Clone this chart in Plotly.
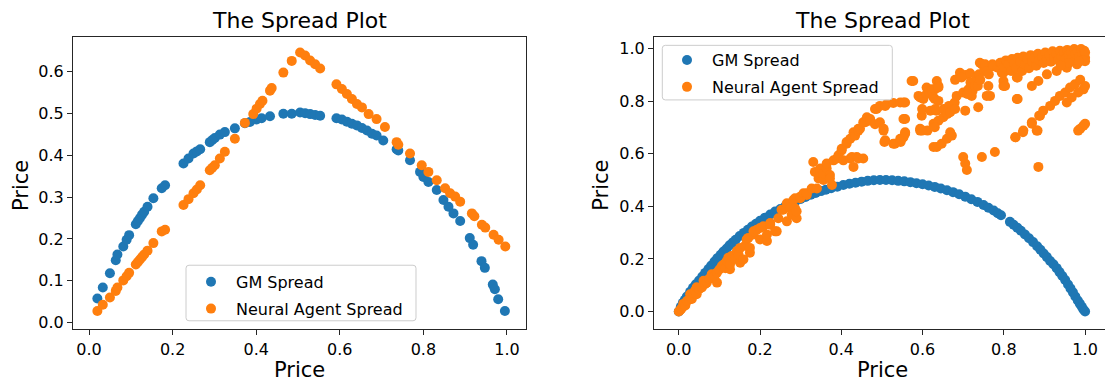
import plotly.graph_objects as go

W, H = 1105, 386

# ---------------- data ----------------
series_names = ["GM Spread", "Neural Agent Spread"]
title_text = "The Spread Plot"
axis_label = "Price"

left_gm_x = [0.020, 0.033, 0.050, 0.064, 0.068, 0.082, 0.090, 0.096, 0.112, 0.117,
             0.122, 0.127, 0.132, 0.140, 0.154, 0.174, 0.182, 0.226, 0.238, 0.250,
             0.258, 0.266, 0.289, 0.295, 0.301, 0.313, 0.325, 0.349, 0.373, 0.385,
             0.401, 0.413, 0.433, 0.465, 0.485, 0.505, 0.517, 0.529, 0.541, 0.553,
             0.592, 0.605, 0.617, 0.629, 0.641, 0.653, 0.665, 0.677, 0.688, 0.704,
             0.736, 0.740, 0.768, 0.792, 0.800, 0.812, 0.832, 0.848, 0.860, 0.872,
             0.888, 0.911, 0.919, 0.939, 0.947, 0.966, 0.971, 0.979, 0.995]
left_gm_y = [0.058, 0.084, 0.118, 0.149, 0.163, 0.182, 0.198, 0.209, 0.235, 0.243,
             0.250, 0.258, 0.265, 0.277, 0.297, 0.321, 0.328, 0.380, 0.392, 0.404,
             0.409, 0.414, 0.431, 0.436, 0.441, 0.449, 0.455, 0.464, 0.476, 0.479,
             0.485, 0.488, 0.493, 0.499, 0.499, 0.502, 0.500, 0.498, 0.496, 0.494,
             0.488, 0.485, 0.480, 0.475, 0.471, 0.465, 0.459, 0.451, 0.447, 0.435,
             0.414, 0.411, 0.388, 0.360, 0.348, 0.336, 0.317, 0.293, 0.277, 0.261,
             0.243, 0.202, 0.186, 0.147, 0.131, 0.091, 0.080, 0.056, 0.028]

left_na_x = [0.020, 0.033, 0.050, 0.064, 0.068, 0.082, 0.090, 0.096, 0.112, 0.117,
             0.122, 0.127, 0.132, 0.140, 0.154, 0.174, 0.182, 0.226, 0.238, 0.250,
             0.258, 0.266, 0.289, 0.295, 0.301, 0.313, 0.325, 0.349, 0.373, 0.393,
             0.401, 0.409, 0.415, 0.433, 0.437, 0.465, 0.485, 0.505, 0.517, 0.529,
             0.541, 0.553, 0.592, 0.605, 0.617, 0.629, 0.641, 0.653, 0.669, 0.688,
             0.708, 0.736, 0.740, 0.768, 0.796, 0.812, 0.832, 0.852, 0.864, 0.876,
             0.888, 0.916, 0.922, 0.940, 0.948, 0.968, 0.980, 0.996]
left_na_y = [0.028, 0.043, 0.060, 0.076, 0.084, 0.101, 0.111, 0.119, 0.139, 0.145,
             0.151, 0.157, 0.163, 0.172, 0.190, 0.218, 0.222, 0.281, 0.295, 0.309,
             0.318, 0.328, 0.364, 0.370, 0.376, 0.392, 0.408, 0.439, 0.477, 0.498,
             0.511, 0.522, 0.530, 0.554, 0.560, 0.597, 0.625, 0.645, 0.638, 0.626,
             0.617, 0.607, 0.569, 0.558, 0.546, 0.534, 0.522, 0.514, 0.498, 0.486,
             0.467, 0.431, 0.425, 0.404, 0.376, 0.360, 0.340, 0.321, 0.309, 0.301,
             0.289, 0.261, 0.254, 0.234, 0.227, 0.210, 0.198, 0.182]

right_gm_x = [0.000, 0.005, 0.010, 0.015, 0.020, 0.028, 0.035, 0.042, 0.050, 0.058,
              0.065, 0.073, 0.080, 0.088, 0.095, 0.103, 0.110, 0.118, 0.125, 0.133,
              0.140, 0.150, 0.160, 0.170, 0.180, 0.190, 0.200, 0.212, 0.225, 0.237,
              0.250, 0.262, 0.275, 0.287, 0.300, 0.312, 0.325, 0.337, 0.350, 0.362,
              0.375, 0.390, 0.405, 0.420, 0.435, 0.450, 0.465, 0.480, 0.495, 0.510,
              0.525, 0.540, 0.555, 0.570, 0.585, 0.600, 0.615, 0.630, 0.645, 0.660,
              0.675, 0.690, 0.705, 0.720, 0.735, 0.750, 0.762, 0.775, 0.785, 0.793,
              0.815, 0.824, 0.833, 0.842, 0.852, 0.862, 0.872, 0.882, 0.890, 0.898,
              0.906, 0.914, 0.922, 0.930, 0.937, 0.944, 0.951, 0.958, 0.964, 0.970,
              0.976, 0.982, 0.987, 0.992, 0.996, 1.000]
right_gm_y = [0.000, 0.018, 0.033, 0.045, 0.057, 0.075, 0.090, 0.104, 0.118, 0.133,
              0.147, 0.162, 0.175, 0.190, 0.203, 0.216, 0.228, 0.240, 0.252, 0.263,
              0.273, 0.287, 0.299, 0.311, 0.323, 0.334, 0.345, 0.357, 0.369, 0.380,
              0.390, 0.400, 0.410, 0.419, 0.428, 0.436, 0.444, 0.451, 0.458, 0.463,
              0.469, 0.475, 0.481, 0.486, 0.490, 0.494, 0.497, 0.499, 0.500, 0.500,
              0.499, 0.497, 0.495, 0.492, 0.488, 0.484, 0.479, 0.474, 0.468, 0.461,
              0.454, 0.446, 0.437, 0.427, 0.417, 0.405, 0.395, 0.384, 0.374, 0.366,
              0.341, 0.330, 0.319, 0.307, 0.293, 0.279, 0.264, 0.248, 0.235, 0.221,
              0.207, 0.192, 0.180, 0.165, 0.150, 0.135, 0.120, 0.103, 0.088, 0.073,
              0.057, 0.042, 0.030, 0.018, 0.008, 0.000]

# Neural agent spread (right panel), (price, spread) pairs grouped by region
right_na_low = [
    (0.000, 0.000), (0.003, 0.005), (0.006, 0.010), (0.010, 0.018), (0.011, 0.029),
    (0.016, 0.023), (0.020, 0.040), (0.025, 0.045), (0.028, 0.066), (0.032, 0.048),
    (0.036, 0.070), (0.040, 0.080), (0.044, 0.066), (0.044, 0.092), (0.050, 0.085),
    (0.057, 0.092), (0.061, 0.117), (0.065, 0.105), (0.069, 0.110), (0.075, 0.125),
    (0.081, 0.129), (0.081, 0.142), (0.088, 0.135), (0.094, 0.110), (0.094, 0.148),
    (0.100, 0.160), (0.106, 0.173), (0.110, 0.179), (0.115, 0.165), (0.118, 0.192),
    (0.122, 0.205), (0.126, 0.161), (0.126, 0.179), (0.130, 0.211), (0.138, 0.200),
    (0.143, 0.230), (0.147, 0.217), (0.151, 0.186), (0.151, 0.242), (0.159, 0.198),
    (0.163, 0.250), (0.167, 0.274), (0.171, 0.280), (0.175, 0.224), (0.175, 0.242),
    (0.184, 0.293), (0.184, 0.305), (0.192, 0.311), (0.200, 0.274), (0.200, 0.318),
    (0.208, 0.324), (0.217, 0.268), (0.217, 0.293), (0.225, 0.330), (0.225, 0.337),
    (0.237, 0.305), (0.241, 0.305), (0.245, 0.355), (0.253, 0.387), (0.257, 0.387),
    (0.266, 0.343), (0.266, 0.412), (0.274, 0.393), (0.278, 0.368), (0.282, 0.424),
    (0.286, 0.393), (0.286, 0.431), (0.290, 0.355), (0.290, 0.381), (0.299, 0.431),
    (0.299, 0.437), (0.307, 0.450), (0.315, 0.443), (0.315, 0.450), (0.327, 0.468),
]
right_na_mid = [
    (0.331, 0.569), (0.335, 0.531), (0.340, 0.468), (0.344, 0.506), (0.348, 0.531),
    (0.348, 0.544), (0.356, 0.500), (0.356, 0.525), (0.364, 0.544), (0.364, 0.563),
    (0.372, 0.519), (0.372, 0.506), (0.377, 0.481), (0.381, 0.575), (0.389, 0.582),
    (0.393, 0.594), (0.401, 0.613), (0.401, 0.619), (0.405, 0.575), (0.413, 0.638),
    (0.413, 0.645), (0.422, 0.582), (0.422, 0.657), (0.426, 0.588), (0.430, 0.550),
    (0.430, 0.682), (0.434, 0.669), (0.438, 0.588), (0.442, 0.582), (0.442, 0.688),
    (0.442, 0.695), (0.446, 0.695), (0.454, 0.720), (0.454, 0.582), (0.459, 0.720),
    (0.463, 0.739), (0.471, 0.732), (0.471, 0.726),
    (0.483, 0.770), (0.487, 0.770), (0.495, 0.782), (0.508, 0.782), (0.512, 0.789),
    (0.528, 0.793), (0.545, 0.795), (0.557, 0.795), (0.553, 0.795),
    (0.483, 0.712), (0.495, 0.720), (0.504, 0.688), (0.504, 0.695), (0.508, 0.651),
    (0.506, 0.645), (0.528, 0.638), (0.532, 0.638), (0.546, 0.645), (0.545, 0.657),
    (0.549, 0.657), (0.553, 0.663), (0.557, 0.676), (0.557, 0.682), (0.553, 0.732),
    (0.557, 0.732),
]
right_na_upper = [
    (0.573, 0.877), (0.577, 0.877), (0.590, 0.820), (0.594, 0.814), (0.599, 0.814),
    (0.602, 0.808), (0.598, 0.745), (0.599, 0.770), (0.594, 0.688), (0.594, 0.695),
    (0.610, 0.827), (0.610, 0.852), (0.617, 0.833), (0.623, 0.845), (0.623, 0.839),
    (0.630, 0.845), (0.627, 0.814), (0.635, 0.877), (0.639, 0.858), (0.639, 0.852),
    (0.630, 0.808), (0.639, 0.801), (0.619, 0.764), (0.631, 0.770), (0.634, 0.764),
    (0.652, 0.770), (0.665, 0.782), (0.679, 0.795), (0.627, 0.714), (0.639, 0.726),
    (0.651, 0.739), (0.661, 0.751), (0.668, 0.758), (0.680, 0.770), (0.612, 0.688),
    (0.599, 0.688), (0.630, 0.701), (0.635, 0.626), (0.627, 0.626), (0.647, 0.638),
    (0.660, 0.657), (0.672, 0.669), (0.668, 0.682), (0.680, 0.881), (0.692, 0.893),
    (0.692, 0.908), (0.705, 0.900), (0.717, 0.906), (0.696, 0.890), (0.684, 0.820),
    (0.700, 0.833), (0.713, 0.845), (0.721, 0.820), (0.723, 0.839), (0.705, 0.764),
    (0.700, 0.588), (0.705, 0.563), (0.709, 0.538), (0.718, 0.871), (0.710, 0.827),
    (0.729, 0.858), (0.733, 0.893), (0.737, 0.777), (0.736, 0.858), (0.739, 0.902),
    (0.741, 0.946), (0.742, 0.881), (0.746, 0.940), (0.746, 0.588), (0.752, 0.915),
    (0.754, 0.940), (0.758, 0.915), (0.762, 0.858), (0.763, 0.902), (0.766, 0.820),
    (0.758, 0.820), (0.772, 0.940), (0.774, 0.933), (0.778, 0.607), (0.785, 0.927),
    (0.791, 0.946), (0.794, 0.946), (0.795, 0.908), (0.799, 0.877), (0.799, 0.858),
    (0.799, 0.908), (0.803, 0.858), (0.811, 0.921),
]
right_na_right = [
    (0.828, 0.663), (0.829, 0.663), (0.847, 0.682), (0.848, 0.688), (0.869, 0.720),
    (0.869, 0.714), (0.881, 0.688), (0.883, 0.688), (0.887, 0.745), (0.885, 0.550),
    (0.832, 0.808), (0.834, 0.808), (0.832, 0.890), (0.834, 0.890), (0.889, 0.745),
    (0.897, 0.764), (0.914, 0.782), (0.926, 0.801), (0.938, 0.820), (0.951, 0.833),
    (0.963, 0.852), (0.975, 0.864), (0.988, 0.881), (0.996, 0.845), (0.983, 0.833),
    (0.967, 0.814), (0.955, 0.795), (1.000, 0.858), (0.869, 0.858), (0.885, 0.877),
    (0.906, 0.902), (0.930, 0.915), (0.955, 0.927), (0.980, 0.940), (1.000, 0.952),
    (0.988, 0.695), (0.996, 0.707), (0.983, 0.688), (1.000, 0.714),
]
right_na_top = [
    (0.800, 0.930), (0.805, 0.955), (0.812, 0.940), (0.818, 0.915), (0.820, 0.960),
    (0.826, 0.945), (0.830, 0.925), (0.834, 0.965), (0.840, 0.950), (0.845, 0.915),
    (0.848, 0.970), (0.852, 0.940), (0.858, 0.960), (0.862, 0.925), (0.866, 0.975),
    (0.870, 0.950), (0.876, 0.965), (0.880, 0.935), (0.884, 0.980), (0.888, 0.955),
    (0.894, 0.970), (0.898, 0.945), (0.902, 0.985), (0.906, 0.960), (0.912, 0.975),
    (0.916, 0.950), (0.920, 0.990), (0.924, 0.965), (0.930, 0.980), (0.934, 0.955),
    (0.938, 0.992), (0.942, 0.970), (0.948, 0.985), (0.952, 0.960), (0.956, 0.995),
    (0.960, 0.975), (0.965, 0.988), (0.969, 0.965), (0.973, 0.998), (0.977, 0.978),
    (0.982, 0.990), (0.986, 0.970), (0.990, 0.998), (0.994, 0.980), (0.998, 0.992),
    (1.000, 0.965), (1.000, 0.985), (0.996, 0.955), (0.985, 0.950), (0.960, 0.945),
    (0.940, 0.935),
]

x_ticks = [0.0, 0.2, 0.4, 0.6, 0.8, 1.0]
x_tick_text = ["0.0", "0.2", "0.4", "0.6", "0.8", "1.0"]
left_y_ticks = [0.0, 0.1, 0.2, 0.3, 0.4, 0.5, 0.6]
left_y_tick_text = ["0.0", "0.1", "0.2", "0.3", "0.4", "0.5", "0.6"]
right_y_ticks = [0.0, 0.2, 0.4, 0.6, 0.8, 1.0]
right_y_tick_text = ["0.0", "0.2", "0.4", "0.6", "0.8", "1.0"]

# ---------------- styling ----------------
BLUE = "#1f77b4"
ORANGE = "#ff7f0e"
AX = "#262626"
FONT = "DejaVu Sans"
MS = 10


def px(x):
    return x / W


def py(y):
    return 1 - y / H


right_na = right_na_low + right_na_mid + right_na_upper + right_na_right + right_na_top
right_na_x = [p[0] for p in right_na]
right_na_y = [p[1] for p in right_na]

fig = go.Figure()
fig.add_trace(go.Scatter(x=left_gm_x, y=left_gm_y, mode="markers", name=series_names[0],
                         marker=dict(color=BLUE, size=MS), xaxis="x", yaxis="y",
                         legend="legend", legendgroup="a"))
fig.add_trace(go.Scatter(x=left_na_x, y=left_na_y, mode="markers", name=series_names[1],
                         marker=dict(color=ORANGE, size=MS), xaxis="x", yaxis="y",
                         legend="legend", legendgroup="b"))
fig.add_trace(go.Scatter(x=right_gm_x, y=right_gm_y, mode="markers", name=series_names[0],
                         marker=dict(color=BLUE, size=MS), xaxis="x2", yaxis="y2",
                         legend="legend2", legendgroup="c"))
fig.add_trace(go.Scatter(x=right_na_x, y=right_na_y, mode="markers", name=series_names[1],
                         marker=dict(color=ORANGE, size=MS), xaxis="x2", yaxis="y2",
                         legend="legend2", legendgroup="d"))

common = dict(ticks="outside", ticklen=5, tickwidth=1, tickcolor=AX, showline=True,
              linecolor=AX, linewidth=1, showgrid=False, zeroline=False,
              tickfont=dict(family=FONT, size=16, color="#000000"))

ydom = [py(332), py(37.3)]

fig.update_layout(
    width=W, height=H, autosize=False,
    margin=dict(l=0, r=0, t=0, b=0),
    paper_bgcolor="white", plot_bgcolor="white",
    font=dict(family=FONT, color="#000000"),
    xaxis=dict(domain=[px(73), px(526)], range=[-0.0383, 1.0455], anchor="y",
               tickvals=x_ticks, ticktext=x_tick_text, mirror=True, **common),
    yaxis=dict(domain=ydom, range=[-0.016, 0.682], anchor="x",
               tickvals=left_y_ticks, ticktext=left_y_tick_text, mirror=True, **common),
    xaxis2=dict(domain=[px(654), 1.0], range=[-0.061, 1.049], anchor="y2",
                tickvals=x_ticks, ticktext=x_tick_text, mirror=True, **common),
    yaxis2=dict(domain=ydom, range=[-0.068, 1.044], anchor="x2",
                tickvals=right_y_ticks, ticktext=right_y_tick_text, mirror=False, **common),
    legend=dict(x=px(186), y=py(267), xanchor="left", yanchor="top",
                bgcolor="rgba(0,0,0,0)", borderwidth=0, tracegroupgap=3,
                font=dict(family=FONT, size=16, color="#000000"), itemwidth=40),
    legend2=dict(x=px(662), y=py(43.5), xanchor="left", yanchor="top",
                 bgcolor="rgba(0,0,0,0)", borderwidth=0, tracegroupgap=3,
                 font=dict(family=FONT, size=16, color="#000000"), itemwidth=40),
    showlegend=True,
)


def rounded_box(x0, y0, x1, y1, r=3):
    pts = [
        ("M", x0 + r, y0), ("L", x1 - r, y0), ("Q", x1, y0, x1, y0 + r),
        ("L", x1, y1 - r), ("Q", x1, y1, x1 - r, y1), ("L", x0 + r, y1),
        ("Q", x0, y1, x0, y1 - r), ("L", x0, y0 + r), ("Q", x0, y0, x0 + r, y0),
    ]
    parts = []
    for p in pts:
        cmd = p[0]
        coords = p[1:]
        s = []
        for i in range(0, len(coords), 2):
            s.append(f"{px(coords[i]):.5f},{py(coords[i + 1]):.5f}")
        parts.append(cmd + " " + " ".join(s))
    return " ".join(parts) + " Z"


for (bx0, by0, bx1, by1) in [(186, 267.3, 416, 323.3), (662.3, 45.7, 892.3, 100.7)]:
    fig.add_shape(type="path", xref="paper", yref="paper",
                  path=rounded_box(bx0, by0, bx1, by1),
                  fillcolor="rgba(255,255,255,0.8)",
                  line=dict(color="#cccccc", width=1), layer="above")

# titles and axis labels
for cx in (299.5, 882):
    fig.add_annotation(x=px(cx), y=py(20.5), xref="paper", yref="paper", text=title_text,
                       showarrow=False, xanchor="center", yanchor="middle",
                       font=dict(family=FONT, size=22, color="#000000"))
for cx in (299.5, 882):
    fig.add_annotation(x=px(cx), y=py(372.5), xref="paper", yref="paper", text=axis_label,
                       showarrow=False, xanchor="center", yanchor="middle",
                       font=dict(family=FONT, size=21, color="#000000"))
for cx in (21.7, 601.5):
    fig.add_annotation(x=px(cx), y=py(186.7), xref="paper", yref="paper", text=axis_label,
                       showarrow=False, xanchor="center", yanchor="middle", textangle=-90,
                       font=dict(family=FONT, size=21, color="#000000"))

fig.write_html("out.html")
